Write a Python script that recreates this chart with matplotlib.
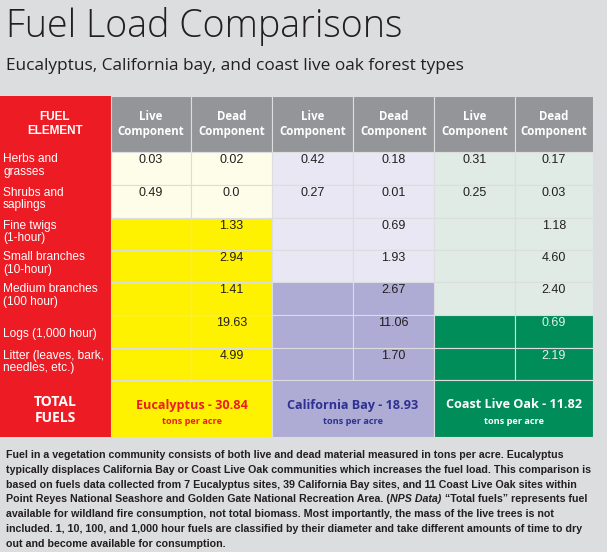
"""Fuel load comparison table for three forest types."""

import matplotlib
matplotlib.use("Agg")
import matplotlib.pyplot as plt
from matplotlib import font_manager
from matplotlib.patches import Rectangle

# ---- data -----------------------------------------------------------------
fuel_elements = ["Herbs and\ngrasses", "Shrubs and\nsaplings", "Fine twigs\n(1-hour)",
                 "Small branches\n(10-hour)", "Medium branches\n(100 hour)",
                 "Logs (1,000 hour)", "Litter (leaves, bark,\nneedles, etc.)"]
component_labels = ["Live\nComponent", "Dead\nComponent"]
forest_types = ["Eucalyptus", "California Bay", "Coast Live Oak"]

euc_live = ["0.03", "0.49", "", "", "", "", ""]
euc_dead = ["0.02", "0.0", "1.33", "2.94", "1.41", "19.63", "4.99"]
bay_live = ["0.42", "0.27", "", "", "", "", ""]
bay_dead = ["0.18", "0.01", "0.69", "1.93", "2.67", "11.06", "1.70"]
oak_live = ["0.31", "0.25", "", "", "", "", ""]
oak_dead = ["0.17", "0.03", "1.18", "4.60", "2.40", "0.69", "2.19"]
total_fuels = [30.84, 18.93, 11.82]

# row index from which each forest type uses its strong shade
strong_from = [2, 4, 5]

footer_lines = [
    "Fuel in a vegetation community consists of both live and dead material measured in tons per acre. Eucalyptus",
    "typically displaces California Bay or Coast Live Oak communities which increases the fuel load. This comparison is",
    "based on fuels data collected from 7 Eucalyptus sites, 39 California Bay sites, and 11 Coast Live Oak sites within",
    None,
    "available for wildland fire consumption, not total biomass. Most importantly, the mass of the live trees is not",
    "included. 1, 10, 100, and 1,000 hour fuels are classified by their diameter and take different amounts of time to dry",
    "out and become available for consumption.",
]
footer_line4 = ["Point Reyes National Seashore and Golden Gate National Recreation Area. (",
                "NPS Data)", "\u201cTotal fuels\u201d represents fuel"]

# ---- style ----------------------------------------------------------------
bg = "#dcddde"
red = "#ed1c24"
header_gray = "#939598"
shades = [("#fefde9", "#fff200"), ("#e8e7f3", "#aeabd4"), ("#dfebe4", "#008d5a")]
total_colors = ["#ed1c24", "#2e3192", "white"]
dark = "#231f20"

names = {f.name for f in font_manager.fontManager.ttflist}
arial = "Liberation Sans" if "Liberation Sans" in names else "DejaVu Sans"
narrow = "Liberation Sans Narrow" if "Liberation Sans Narrow" in names else arial
humanist = "Open Sans" if "Open Sans" in names else "DejaVu Sans"

col_edges = [0, 111, 191, 272, 353, 434, 515, 593]
row_edges = [96, 152, 185, 218, 250, 282, 315, 348, 380, 437]

W, H = 607, 552
fig = plt.figure(figsize=(W / 100, H / 100), dpi=100, facecolor=bg)
ax = fig.add_axes([0, 0, 1, 1])
ax.set_xlim(0, W)
ax.set_ylim(H, 0)
ax.axis("off")
renderer = fig.canvas.get_renderer()


def fit_width(t, width):
    """Scale the font size of a text so that it spans `width` pixels."""
    w = t.get_window_extent(renderer).width
    t.set_fontsize(t.get_fontsize() * width / w)
    return t.get_fontsize()


# ---- title ----------------------------------------------------------------
t = ax.text(6, 37, "Fuel Load Comparisons", family=humanist, weight="light",
            fontsize=27, color=dark, va="baseline")
fit_width(t, 396)
t = ax.text(6, 70, "Eucalyptus, California bay, and coast live oak forest types",
            family=humanist, fontsize=13, color=dark, va="baseline")
fit_width(t, 456)

# ---- fuel element column ----------------------------------------------------
ax.add_patch(Rectangle((0, row_edges[0]), col_edges[1], row_edges[-1] - row_edges[0],
                       fc=red, ec="none"))
ax.text(55, 124, "FUEL\nELEMENT", family=arial, weight="bold", fontsize=8.5,
        color="white", ha="center", va="center", linespacing=1.25)
for r, label in enumerate(fuel_elements):
    y0, y1 = row_edges[r + 1], row_edges[r + 2]
    if "\n" in label:
        ax.text(3, y0 + 1.5, label, family=arial, fontsize=8.6, color="white",
                va="top", linespacing=1.05)
    else:
        ax.text(3, (y0 + y1) / 2 + 2, label, family=arial, fontsize=8.6,
                color="white", va="center")
ax.text(55, 410, "TOTAL\nFUELS", family=humanist, weight="bold", fontsize=10,
        color="white", ha="center", va="center", linespacing=1.15)

# ---- value columns ----------------------------------------------------------
groups = [(euc_live, euc_dead), (bay_live, bay_dead), (oak_live, oak_dead)]
for g, (live, dead) in enumerate(groups):
    pale, strong = shades[g]
    for c, values in enumerate((live, dead)):
        col = 1 + 2 * g + c
        x0, x1 = col_edges[col], col_edges[col + 1]
        ax.add_patch(Rectangle((x0, row_edges[0]), x1 - x0, row_edges[1] - row_edges[0],
                               fc=header_gray, ec=bg, lw=0.8))
        ax.text((x0 + x1) / 2, 124, component_labels[c], family=humanist,
                weight="bold", fontsize=8.3, color="white", ha="center",
                va="center", linespacing=1.2)
        for r, v in enumerate(values):
            y0, y1 = row_edges[r + 1], row_edges[r + 2]
            is_strong = r >= strong_from[g]
            ax.add_patch(Rectangle((x0, y0), x1 - x0, y1 - y0,
                                   fc=strong if is_strong else pale, ec=bg, lw=0.8))
            if v:
                txt_color = "#e4f1ea" if (is_strong and g == 2) else dark
                ax.text((x0 + x1) / 2, y0 + 2, v, family=arial, fontsize=9,
                        color=txt_color, ha="center", va="top")

    # total row
    x0, x1 = col_edges[1 + 2 * g], col_edges[3 + 2 * g]
    y0, y1 = row_edges[-2], row_edges[-1]
    ax.add_patch(Rectangle((x0, y0), x1 - x0, y1 - y0, fc=strong, ec=bg, lw=0.8))
    t = ax.text((x0 + x1) / 2, 405, f"{forest_types[g]} - {total_fuels[g]:.2f}",
                family=humanist, weight="bold", fontsize=9.5,
                color=total_colors[g], ha="center", va="center")
    if g == 0:
        total_size = fit_width(t, 112)
    else:
        t.set_fontsize(total_size)
    ax.text((x0 + x1) / 2, 422, "tons per acre", family=humanist, weight="bold",
            fontsize=6.6, color=total_colors[g], ha="center", va="center")

# ---- footer -----------------------------------------------------------------
probe = ax.text(6, 532, footer_lines[5], family=narrow, weight="bold",
                fontsize=8, color=dark, va="baseline")
foot_size = fit_width(probe, 579)
probe.remove()

for i, line in enumerate(footer_lines):
    y = 458 + i * 14.8
    if line is not None:
        ax.text(6, y, line, family=narrow, weight="bold", fontsize=foot_size,
                color=dark, va="baseline")
        continue
    # line with the italic "(NPS Data)"
    a = ax.text(0, 0, "x x", family=narrow, weight="bold", fontsize=foot_size)
    b = ax.text(0, 0, "xx", family=narrow, weight="bold", fontsize=foot_size)
    space = a.get_window_extent(renderer).width - b.get_window_extent(renderer).width
    a.remove()
    b.remove()
    x = 6
    for k, piece in enumerate(footer_line4):
        t = ax.text(x, y, piece, family=narrow, weight="bold",
                    style="italic" if k == 1 else "normal",
                    fontsize=foot_size, color=dark, va="baseline")
        x += t.get_window_extent(renderer).width + (space if k == 1 else 0.5)

fig.savefig("out.png", dpi=100, facecolor=bg)
